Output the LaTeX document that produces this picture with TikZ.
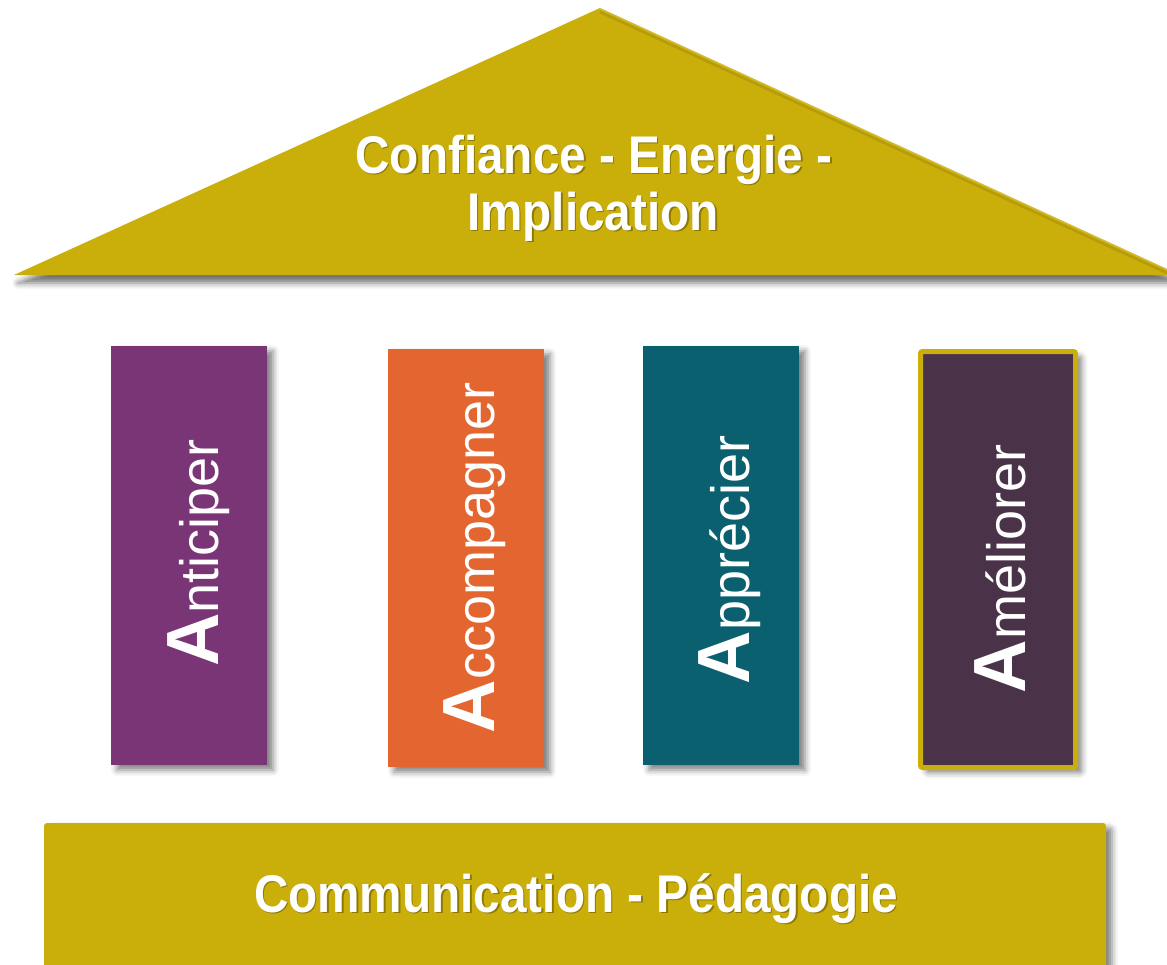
\documentclass[tikz,border=0pt]{standalone}
\usepackage{fontspec}
\setmainfont{Liberation Sans}
\newfontfamily\narrowfont[FakeStretch=0.9]{Liberation Sans}
\usetikzlibrary{shadows.blur}
\definecolor{gold}{HTML}{CAAE0A}
\definecolor{plumA}{HTML}{7A3577}
\definecolor{orangeA}{HTML}{E36630}
\definecolor{tealA}{HTML}{0B6070}
\definecolor{plumB}{HTML}{4A3249}
\tikzset{
  softshadow/.style={blur shadow={shadow xshift=6pt, shadow yshift=-5pt, shadow blur radius=6pt, shadow opacity=50}},
  pillar/.style={rectangle, inner sep=0pt, draw=none, softshadow},
  headtxt/.style={text=white, font=\narrowfont\bfseries\fontsize{53}{57}\selectfont, inner sep=0pt, anchor=base},
  headshadow/.style={headtxt, text=black, opacity=0.3},
  plabel/.style={text=white, inner sep=0pt, anchor=base, rotate=90},
}
\begin{document}
\begin{tikzpicture}[x=1pt,y=-1pt]
\useasboundingbox (0,0) rectangle (1167,964);
% roof
\fill[gold, blur shadow={shadow xshift=4pt, shadow yshift=-8pt, shadow blur radius=6pt, shadow opacity=55}]
  (14,275) -- (600,8) -- (1180,275) -- cycle;
\begin{scope}
  \clip (14,275) -- (600,8) -- (1180,275) -- cycle;
  \draw[gold!80!black, line width=2.5pt, opacity=0.5] (600,12) -- (1180,279);
  \draw[gold!70!white, line width=1.5pt, opacity=0.6] (600,8.5) -- (1180,275.5);
\end{scope}
% base
\fill[gold, rounded corners=3pt, softshadow] (44,823) rectangle (1106,990);
% pillars
\node[pillar, fill=plumA, minimum width=156pt, minimum height=419pt] (p1) at (189,555.5) {};
\node[pillar, fill=orangeA, minimum width=156pt, minimum height=418pt] (p2) at (466,558) {};
\node[pillar, fill=tealA, minimum width=156pt, minimum height=419pt] (p3) at (721,555.5) {};
\node[pillar, fill=plumB, draw=gold, line width=5pt, rounded corners=2pt, minimum width=155pt, minimum height=416pt] (p4) at (998,559.5) {};
% pillar labels
\node[plabel] (l1) at (218,553) {{\fontsize{74}{74}\selectfont\bfseries A}{\fontsize{54}{54}\selectfont nticiper}};
\node[plabel] (l2) at (494,558) {{\fontsize{74}{74}\selectfont\bfseries A}{\fontsize{54}{54}\selectfont ccompagner}};
\node[plabel] (l3) at (749,560) {{\fontsize{74}{74}\selectfont\bfseries A}{\fontsize{54}{54}\selectfont pprécier}};
\node[plabel] (l4) at (1025,569) {{\fontsize{74}{74}\selectfont\bfseries A}{\fontsize{54}{54}\selectfont méliorer}};
% roof text
\node[headshadow] at (595.5,174.5) {Confiance - Energie -};
\node[headtxt] (t1) at (594,173) {Confiance - Energie -};
\node[headshadow] at (594.5,231.5) {Implication};
\node[headtxt] (t2) at (593,230) {Implication};
% base text
\node[headshadow] at (577.5,913.5) {Communication - Pédagogie};
\node[headtxt] (bt) at (576,912) {Communication - Pédagogie};
\end{tikzpicture}
\end{document}
